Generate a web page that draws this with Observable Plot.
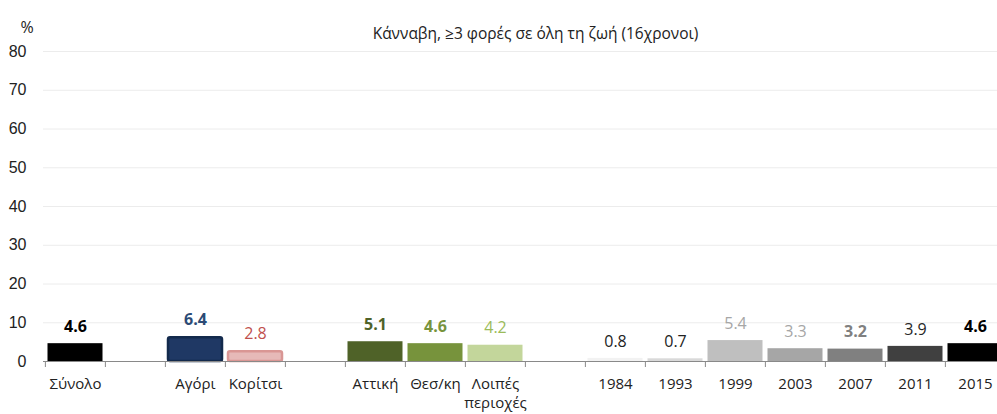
<!DOCTYPE html>
<html><head><meta charset="utf-8">
<script src="https://cdn.jsdelivr.net/npm/d3@7"></script>
<script src="https://cdn.jsdelivr.net/npm/@observablehq/plot@0.6"></script>
<style>body{margin:0;background:#fff}svg{display:block}</style>
</head><body><div id="chart"></div>
<script>
const title = "Κάνναβη, ≥3 φορές σε όλη τη ζωή (16χρονοι)";
const unitLabel = "%";
const categories = ["Σύνολο","gap1","Αγόρι","Κορίτσι","gap2","Αττική","Θεσ/κη","Λοιπές\nπεριοχές","gap3","1984","1993","1999","2003","2007","2011","2015"];
const values = [4.6,null,6.4,2.8,null,5.1,4.6,4.2,null,0.8,0.7,5.4,3.3,3.2,3.9,4.6];
const yTicks = [0,10,20,30,40,50,60,70,80];

// styles per slot
const barFill = ["#000000",null,"#1f3864","#e6b9b8",null,"#4f6228","#77933c","#c3d69b",null,"#f2f2f2","#d9d9d9","#bfbfbf","#a6a6a6","#808080","#404040","#000000"];
const barStroke = [null,null,"#132a4c","#d99694",null,null,null,null,null,null,null,null,null,null,null,null];
const labelColor = ["#000000",null,"#2c4a75","#c0504d",null,"#4f6228","#77933c","#9bbb59",null,"#222222","#222222","#a6a6a6","#a6a6a6","#808080","#262626","#000000"];
const labelBold = [true,null,true,false,null,true,true,false,null,false,false,false,false,true,false,true];

const data = categories.map((cat, i) => ({
  cat, value: values[i], fill: barFill[i], stroke: barStroke[i], lc: labelColor[i], bold: labelBold[i]
})).filter(d => d.value != null);

const x0 = 43, x1 = 1007;
const step = (x1 - x0) / categories.length;

const chart = Plot.plot({
  width: 997, height: 414,
  marginTop: 51, marginBottom: 53, marginLeft: 43, marginRight: 0,
  style: {fontFamily: "'Open Sans', sans-serif", background: "#fff", overflow: "hidden"},
  x: {domain: categories, range: [x0, x1], padding: 0, label: null},
  y: {domain: [0, 80], range: [361, 51], label: null},
  color: {type: "identity"},
  marks: [
    Plot.gridY(yTicks.slice(1), {stroke: "#ececec", strokeOpacity: 1}),
    Plot.axisY(yTicks, {tickSize: 0, tickPadding: 17, fontSize: 16, fontFamily: "'Liberation Sans', Arial, sans-serif", fill: "#222", label: null}),
    Plot.barY(data.filter(d => !d.stroke), {x: "cat", y: "value", fill: "fill", insetLeft: 2.5, insetRight: 2.5}),
    Plot.barY(data.filter(d => d.stroke), {x: "cat", y: "value", fill: "fill", stroke: "stroke", strokeWidth: 2.5, insetLeft: 3, insetRight: 3, insetTop: 1, rx: 2}),
    Plot.ruleY([0], {stroke: "#898989", strokeWidth: 1.2}),
    Plot.axisX({tickSize: 6, dx: -step / 2, stroke: "#898989", tickFormat: () => "", label: null}),
    Plot.axisX({tickSize: 0, tickPadding: 14, fontSize: 15, fill: "#222", lineHeight: 1.25, tickFormat: d => d.startsWith("gap") ? "" : d, label: null}),
    Plot.text(data.filter(d => d.bold), {x: "cat", y: "value", text: d => d.value.toFixed(1), fill: "lc", fontSize: 16, fontWeight: "bold", dy: -17}),
    Plot.text(data.filter(d => !d.bold), {x: "cat", y: "value", text: d => d.value.toFixed(1), fill: "lc", fontSize: 16, dy: -17}),
    Plot.text([title], {frameAnchor: "top", dx: 15, dy: -24, fontSize: 15.5, fill: "#222"}),
    Plot.text([unitLabel], {frameAnchor: "top-left", textAnchor: "middle", dx: -16.5, dy: -30, fontSize: 16, fill: "#222"})
  ]
});
document.getElementById("chart").appendChild(chart);
</script>
</body></html>
